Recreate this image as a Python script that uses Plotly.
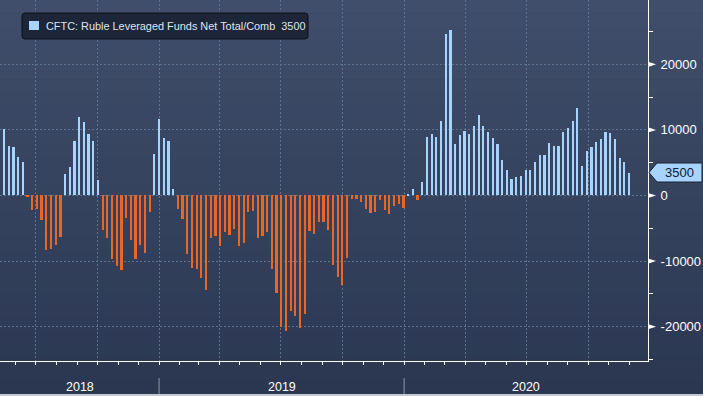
import pandas as pd
import plotly.graph_objects as go

# ---------------- data ----------------
first_date = "2018-05-15"
n_weeks = 134
dates = pd.date_range(first_date, periods=n_weeks, freq="7D")

values = [
    10100, 7500, 7400, 5850, 5100, -300, -2250, -2050, -3750, -8350,
    -8200, -7600, -6350, 3250, 4350, 8300, 11950, 11200, 9350, 8300,
    2350, -5300, -6450, -9700, -10750, -11350, -3400, -6750, -9650, -7550,
    -8750, -2500, 6300, 11650, 8750, 8300, 950, -2050, -3550, -8900,
    -11050, -11200, -12550, -14400, -6450, -6150, -7700, -5600, -6050, -5100,
    -7700, -7200, -2500, -2350, -6450, -6150, -5600, -11200, -14900, -20050,
    -20650, -17600, -18400, -20200, -18050, -5450, -5850, -4000, -4000, -5300,
    -10600, -12400, -13650, -9550, -550, -550, -950, -2100, -2650, -2500,
    -700, -2250, -2850, -1550, -1250, -1900, 100, 1050, -700, 2000,
    8900, 9300, 8900, 11300, 24600, 25300, 7800, 9150, 9800, 9350,
    10550, 12200, 10650, 9650, 8750, 7800, 5400, 3850, 2500, 2800,
    2950, 3850, 3850, 5100, 6150, 6150, 8000, 7500, 7500, 9650,
    10250, 11350, 13300, 4450, 6750, 7350, 8150, 8600, 9650, 9500,
    8600, 5700, 5100, 3500,
]

series_name = "CFTC: Ruble Leveraged Funds Net Total/Comb"
last_label = "3500"
y_tick_vals = [-20000, -10000, 0, 10000, 20000]
y_tick_text = ["-20000", "-10000", "0", "10000", "20000"]
year_labels = ["2018", "2019", "2020"]

# ---------------- styling ----------------
W, H = 703, 396
PW, PH = 648, 361  # plot area in px
POS_COLOR = "#a7d3ff"
NEG_COLOR = "#ea6626"
GRID_COLOR = "#5a7290"
FONT = "Liberation Sans"


def px_x(x):
    return x / PW


def px_y(y):
    return 1 - y / PH


colors = [POS_COLOR if v >= 0 else NEG_COLOR for v in values]

fig = go.Figure()
fig.add_trace(go.Bar(
    x=dates, y=values, marker=dict(color=colors, line=dict(width=0)),
    width=3.3 * 86400000, name=series_name, showlegend=False,
))

x_start = dates[0] - pd.Timedelta(hours=5.96 * 24)
x_end = dates[0] + pd.Timedelta(hours=959.3 * 24)
y_range = [-25230, 29800]

shapes = []

# background gradient bands
top_rgb = (0x40, 0x4e, 0x6b)
bot_rgb = (0x2b, 0x37, 0x51)
nb = 30
for i in range(nb):
    t = (i + 0.5) / nb
    c = tuple(int(round(top_rgb[k] + (bot_rgb[k] - top_rgb[k]) * t)) for k in range(3))
    y0 = i * H / nb
    y1 = (i + 1) * H / nb + 0.5
    shapes.append(dict(type="rect", xref="paper", yref="paper", layer="below",
                       x0=px_x(0), x1=px_x(W), y0=px_y(y0), y1=px_y(y1),
                       fillcolor="rgb(%d,%d,%d)" % c, line=dict(width=0)))

# legend box (rounded)
lx0, lx1, ly0, ly1, r = 22, 308, 13, 39, 3
path = (f"M {px_x(lx0 + r)},{px_y(ly0)} L {px_x(lx1 - r)},{px_y(ly0)} "
        f"Q {px_x(lx1)},{px_y(ly0)} {px_x(lx1)},{px_y(ly0 + r)} "
        f"L {px_x(lx1)},{px_y(ly1 - r)} Q {px_x(lx1)},{px_y(ly1)} {px_x(lx1 - r)},{px_y(ly1)} "
        f"L {px_x(lx0 + r)},{px_y(ly1)} Q {px_x(lx0)},{px_y(ly1)} {px_x(lx0)},{px_y(ly1 - r)} "
        f"L {px_x(lx0)},{px_y(ly0 + r)} Q {px_x(lx0)},{px_y(ly0)} {px_x(lx0 + r)},{px_y(ly0)} Z")
shapes.append(dict(type="path", xref="paper", yref="paper", path=path,
                   fillcolor="#1d2638", line=dict(color="#0c1019", width=1)))
shapes.append(dict(type="rect", xref="paper", yref="paper",
                   x0=px_x(29), x1=px_x(39), y0=px_y(21), y1=px_y(30),
                   fillcolor=POS_COLOR, line=dict(width=0)))

# tick triangles on right axis
h_units = 2.6 / 65.6 * 10000
for v in y_tick_vals:
    shapes.append(dict(type="path", xref="paper", yref="y",
                       path=f"M 1,{v + h_units} L 1,{v - h_units} L {1 + 8 / PW},{v} Z",
                       fillcolor="white", line=dict(width=0)))

# last value callout
last = values[-1]
hh = 9.5 / 65.6 * 10000
cpath = (f"M {1 + 1 / PW},{last} L {1 + 9 / PW},{last + hh} L {1 + 54 / PW},{last + hh} "
         f"L {1 + 54 / PW},{last - hh} L {1 + 9 / PW},{last - hh} Z")
shapes.append(dict(type="path", xref="paper", yref="y", path=cpath,
                   fillcolor=POS_COLOR, line=dict(color="#1a2233", width=1)))

# year separators
for yl in year_labels[1:]:
    shapes.append(dict(type="line", xref="x", yref="paper",
                       x0=f"{yl}-01-01", x1=f"{yl}-01-01",
                       y0=px_y(378), y1=px_y(396),
                       line=dict(color="#8d96a8", width=1)))

# bottom light strip
shapes.append(dict(type="rect", xref="paper", yref="paper",
                   x0=px_x(0), x1=px_x(W), y0=px_y(394), y1=px_y(397),
                   fillcolor="#c3c8d1", line=dict(width=0)))

annotations = []
annotations.append(dict(xref="paper", yref="paper", x=px_x(44), y=px_y(26),
                        xanchor="left", yanchor="middle", showarrow=False,
                        text=series_name + "\u00a0\u00a0" + last_label,
                        font=dict(family=FONT, size=10.9, color="#dfe5ee")))
annotations.append(dict(xref="paper", yref="y", x=1 + 31 / PW, y=last,
                        xanchor="center", yanchor="middle", showarrow=False,
                        text=last_label, font=dict(family=FONT, size=13, color="#0f1a30")))

# year labels centred on visible part of each year
for yl in year_labels:
    a = max(pd.Timestamp(f"{yl}-01-01"), x_start)
    b = min(pd.Timestamp(f"{int(yl) + 1}-01-01"), x_end)
    mid = a + (b - a) / 2
    annotations.append(dict(xref="x", yref="paper", x=mid, y=px_y(387),
                            xanchor="center", yanchor="middle", showarrow=False,
                            text=yl, font=dict(family=FONT, size=12.5, color="white")))

fig.update_layout(
    width=W, height=H,
    margin=dict(l=0, r=W - PW, t=0, b=H - PH, pad=0),
    paper_bgcolor="#2e3a55", plot_bgcolor="rgba(0,0,0,0)",
    shapes=shapes, annotations=annotations, showlegend=False,
    bargap=0, font=dict(family=FONT, color="white"),
    xaxis=dict(
        type="date", range=[x_start, x_end],
        showgrid=True, gridcolor=GRID_COLOR, griddash="2px,2px", gridwidth=1,
        tick0="2018-01-01", dtick="M3", ticks="outside", ticklen=3,
        tickcolor="white", tickwidth=1, showticklabels=False,
        minor=dict(dtick="M1", tick0="2018-01-01", ticks="outside", ticklen=3,
                   tickcolor="white", tickwidth=1, showgrid=False),
        showline=True, linecolor="white", linewidth=1, zeroline=False,
        fixedrange=True,
    ),
    yaxis=dict(
        side="right", range=y_range, tickmode="array",
        tickvals=y_tick_vals, ticktext=y_tick_text,
        showgrid=True, gridcolor=GRID_COLOR, griddash="2px,2px", gridwidth=1,
        zeroline=False, ticks="outside", ticklen=4, tickcolor="white",
        ticklabelstandoff=5,
        minor=dict(dtick=5000, tick0=0, ticks="outside", ticklen=4,
                   tickcolor="white", showgrid=False),
        tickfont=dict(family=FONT, size=13, color="white"),
        showline=True, linecolor="white", linewidth=1, fixedrange=True,
    ),
)

fig.write_html(
    "out.html",
    config={"displayModeBar": False},
    post_script="document.body.style.margin='0px';document.body.style.overflow='hidden';",
)
